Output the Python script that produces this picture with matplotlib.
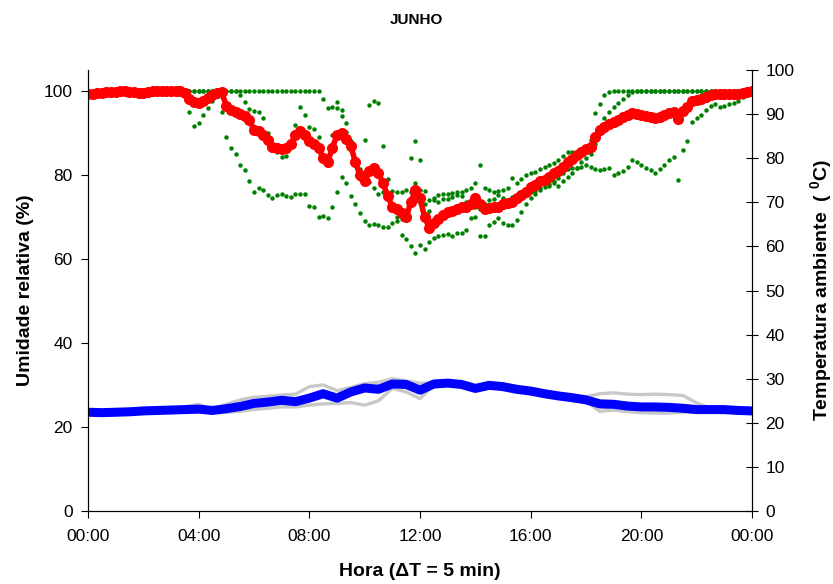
import numpy as np
import matplotlib.pyplot as plt

plt.rcParams['font.family'] = ['Liberation Sans', 'DejaVu Sans']
plt.rcParams['mathtext.fontset'] = 'custom'
plt.rcParams['mathtext.rm'] = 'Liberation Sans'
plt.rcParams['mathtext.bf'] = 'Liberation Sans:bold'

# relative humidity (%), one value every 10 min, 00:00 -> 24:00
ur_dia1 = [
    100, 100, 100, 100, 100, 100,
    100, 100, 100, 100, 100, 100,
    100, 100, 100, 100, 100, 100,
    100, 100, 100, 100, 100, 100,
    100, 100, 100, 100, 100, 95,
    89, 86.5, 85, 82.5, 81.3, 78.5,
    76, 76.8, 76.5, 75.2, 74.6, 75.2,
    75.4, 75, 74.7, 75.4, 75.5, 75.5,
    72.6, 72.4, 70, 70.2, 69.8, 72.5,
    76, 79.5, 78, 75, 73, 71,
    69, 68.1, 68.3, 68, 67.7, 67.7,
    68.5, 69, 65.8, 64.7, 63, 61.5,
    63.3, 62.5, 64, 65, 65.5, 65.7,
    66, 65.5, 66.1, 66.1, 67, 69.7,
    70, 65.5, 65.5, 68, 68.9, 69.7,
    68.5, 68, 68.1, 69.3, 71.3, 73,
    74.5, 75.6, 76.5, 78, 77.5, 78,
    77.3, 78.5, 79.6, 80.5, 81.6, 82,
    82.4, 82, 81.5, 81.2, 81.5, 81.8,
    80, 80.5, 81, 82, 83.6, 83,
    82.4, 81.8, 81.3, 80.4, 81.5, 82.4,
    83.5, 84.2, 78.8, 86, 88, 92.7,
    93.5, 94.3, 95.5, 96.5, 96.9, 96.3,
    96.5, 96.9, 97.2, 97.7, 98.5, 99.3,
    100]

ur_dia2 = [
    100, 100, 100, 100, 100, 100,
    100, 100, 100, 100, 100, 100,
    100, 100, 100, 100, 100, 100,
    100, 100, 100, 99, 95, 91.7,
    92.5, 94.3, 96, 97.7, 98.8, 99.4,
    100, 100, 100, 99, 97.5, 95.8,
    95.3, 95, 93.5, 90, 87.5, 85.5,
    84.2, 84.5, 87.5, 92, 96.2, 94.3,
    91.5, 91, 89, 84.4, 82.5, 89.5,
    97.5, 95.4, 92.5, 88, 82.4, 79,
    78, 78.4, 77, 75.6, 76, 75.5,
    76.2, 76, 76, 76.5, 76, 78,
    76.5, 73, 71.5, 74, 73.5, 74.4,
    74.4, 74.8, 75.2, 75, 73.5, 73,
    72.5, 72, 73, 74, 74.4, 75.2,
    74.5, 74, 74.8, 75, 75.5, 75.8,
    76, 76.3, 76.8, 77.2, 77.8, 78.5,
    79.2, 80.5, 81.5, 81.6, 81.8, 83,
    84, 85, 87.5, 91, 93.5, 95,
    96.3, 97.2, 98, 99, 99.7, 100,
    100, 100, 100, 100, 100, 100,
    100, 100, 100, 100, 100, 100,
    100, 100, 100, 100, 100, 100,
    100, 100, 100, 100, 100, 100,
    100]

ur_dia3 = [
    100, 100, 100, 100, 100, 100,
    100, 100, 100, 100, 100, 100,
    100, 100, 100, 100, 100, 100,
    100, 100, 100, 100, 100, 100,
    100, 100, 100, 100, 100, 100,
    100, 100, 100, 100, 100, 100,
    100, 100, 100, 100, 100, 100,
    100, 100, 100, 100, 100, 100,
    100, 100, 100, 98, 96, 96.2,
    96, 94, 90.3, 86.5, 83.6, 81.5,
    88.3, 96.7, 97.6, 97.2, 87, 79,
    72, 70, 69.5, 70, 84, 88.2,
    83.6, 76.3, 74, 74.5, 75.2, 75.5,
    75.5, 75.8, 76, 76, 76.5, 76.8,
    78, 82.4, 77, 76.4, 76, 76.2,
    76.4, 77, 79.2, 78, 79, 80,
    80.5, 80.8, 81.5, 82, 82.4, 82.8,
    83.5, 84.5, 85.5, 85.5, 85.5, 86,
    86.7, 88.3, 94.7, 97, 99, 99.8,
    100, 100, 100, 100, 100, 100,
    100, 100, 100, 100, 100, 100,
    100, 100, 100, 100, 100, 100,
    100, 100, 100, 100, 100, 100,
    100, 100, 100, 100, 100, 100,
    100]

ur_media = [
    99.3, 99.4, 99.5, 99.6, 99.7, 99.8,
    99.8, 99.9, 99.9, 99.8, 99.7, 99.6,
    99.6, 99.8, 99.9, 100, 100, 100,
    100, 99.9, 99.9, 99.6, 98.2, 97.3,
    97.2, 97.6, 98.3, 99, 99.6, 99.7,
    96.5, 95.5, 95, 94.5, 94, 93.2,
    90.7, 90.5, 89.5, 88.3, 86.7, 86.4,
    86.3, 86.5, 87.5, 89.5, 90.5, 89.5,
    88, 87.5, 86.5, 84, 83.2, 86.5,
    89.5, 90, 88.5, 87, 83, 80,
    78.5, 81, 81.6, 80.5, 78, 75,
    72.5, 72, 71, 70, 73.5, 76.5,
    74.5, 70, 67.5, 68.5, 69.5, 70.5,
    71.3, 71.5, 72, 72.5, 72.4, 73.2,
    74.6, 73, 72, 72.2, 72.5, 72.5,
    73, 73.3, 73.6, 74.5, 75.2, 76,
    77.2, 77.6, 78.5, 78.8, 79.6, 80.4,
    81, 82, 83, 83.8, 84.8, 85.5,
    86.3, 86.7, 89, 90.7, 91.5, 92.2,
    92.7, 93.2, 93.8, 94.2, 94.7, 94.5,
    94.2, 94, 93.8, 93.5, 93.9, 94.3,
    94.7, 95, 93.3, 95.3, 96.2, 97.6,
    97.9, 98.2, 98.6, 99, 99.4, 99.2,
    99.2, 99.3, 99.3, 99.4, 99.5, 99.7,
    100]

# air temperature (C), one value every 30 min
temp_dia1 = [22.5, 22.4, 22.5, 22.6, 22.8, 22.9, 23.0, 23.6, 24.2, 23.0,
             24.2, 25.2, 25.8, 26.0, 26.3, 26.5, 28.2, 28.6, 27.3, 28.0,
             28.9, 29.2, 30.0, 29.5, 29.0, 29.0, 29.2, 28.9, 28.0, 28.6,
             28.3, 27.8, 27.4, 26.8, 26.3, 26.0, 25.9, 26.6, 26.8, 26.5,
             26.4, 26.5, 26.4, 26.2, 24.5, 23.3, 23.1, 22.9, 22.8]
temp_dia2 = [22.3, 22.2, 22.3, 22.4, 22.6, 22.7, 22.8, 22.8, 22.9, 22.6,
             22.4, 22.6, 23.0, 23.3, 23.6, 23.6, 24.0, 24.3, 24.4, 24.6,
             24.0, 25.0, 27.8, 27.0, 25.5, 28.5, 28.8, 28.5, 27.6, 28.3,
             28.0, 27.3, 26.9, 26.3, 25.9, 25.4, 24.8, 22.6, 22.9, 22.6,
             22.4, 22.4, 22.5, 22.5, 22.6, 22.8, 22.8, 22.7, 22.6]
temp_dia3 = [22.4, 22.3, 22.4, 22.5, 22.7, 22.8, 22.9, 23.0, 23.2, 22.9,
             23.1, 23.4, 24.2, 24.6, 25.2, 24.6, 25.4, 26.8, 25.2, 27.0,
             28.2, 28.4, 28.6, 29.0, 28.0, 28.9, 29.0, 28.8, 27.8, 28.6,
             28.2, 27.7, 27.3, 26.7, 26.1, 25.7, 25.0, 23.6, 22.9, 22.6,
             22.3, 22.2, 22.2, 22.4, 22.6, 22.9, 23.0, 22.8, 22.7]
temp_media = [22.4, 22.3, 22.4, 22.5, 22.7, 22.8, 22.9, 23.0, 23.1, 22.8,
              23.2, 23.7, 24.4, 24.7, 25.1, 24.8, 25.6, 26.6, 25.6, 27.0,
              27.9, 27.6, 28.8, 28.7, 27.4, 28.8, 29.0, 28.7, 27.8, 28.5,
              28.2, 27.6, 27.2, 26.6, 26.1, 25.7, 25.2, 24.3, 24.2, 23.8,
              23.6, 23.6, 23.5, 23.3, 23.0, 23.0, 23.0, 22.8, 22.7]

hora_ticks = ['00:00', '04:00', '08:00', '12:00', '16:00', '20:00', '00:00']

h10 = np.arange(len(ur_media)) / 6.0   # 10 min steps, in hours
h30 = np.arange(len(temp_media)) / 2.0  # 30 min steps

fig = plt.figure(figsize=(8.33, 5.84), dpi=100)
ax = fig.add_axes([0.1056, 0.125, 0.7972, 0.755])
ax2 = ax.twinx()

for serie in [ur_dia1, ur_dia2, ur_dia3]:
    ax.plot(h10, serie, 'o', color='#008000', ms=3.2, mew=0, zorder=2)
ax.plot(h10, ur_media, '-', color='#ff0000', lw=4, zorder=3)
ax.plot(h10, ur_media, 'o', color='#ff0000', ms=8, mew=0, zorder=3)

for serie in [temp_dia1, temp_dia2, temp_dia3]:
    ax2.plot(h30, serie, '-', color='#c8c8c8', lw=2.4, solid_capstyle='round')
ax2.plot(h30, temp_media, '-', color='#0000ff', lw=6.5, solid_capstyle='round')

ax.set_xlim(0, 24)
ax.set_ylim(0, 105)
ax.set_yticks(range(0, 101, 20))
ax2.set_ylim(0, 100)
ax2.set_yticks(range(0, 101, 10))
ax.set_xticks(range(0, 25, 4))
ax.set_xticklabels(hora_ticks)

for a in (ax, ax2):
    a.spines['top'].set_visible(False)
    a.tick_params(labelsize=12.5, length=5, width=0.8, colors='black', pad=6)
ax.tick_params(axis='x', direction='out', pad=8)
ax2.tick_params(axis='y', direction='inout', length=9, pad=5)

ax.set_xlabel('Hora (ΔT = 5 min)', fontsize=14, fontweight='bold', labelpad=14)
ax.set_ylabel('Umidade relativa (%)', fontsize=14, fontweight='bold', labelpad=7)
ax2.set_ylabel(r'Temperatura ambiente  ( $\mathbf{^0}$C)', fontsize=14,
               fontweight='bold', labelpad=10)
fig.suptitle('JUNHO', fontsize=11, fontweight='bold', y=0.978)

fig.savefig('out.png', dpi=100)
